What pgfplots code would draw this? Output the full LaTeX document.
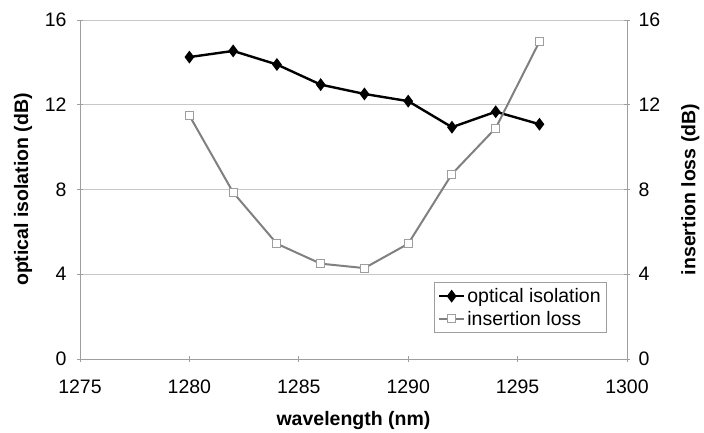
\documentclass[border=0pt]{standalone}
\usepackage{pgfplots}
\pgfplotsset{compat=1.18}
\usepackage{fontspec}
\setmainfont{Liberation Sans}
\definecolor{gridc}{gray}{0.78}
\definecolor{axc}{gray}{0.62}
\definecolor{ilc}{gray}{0.5}
\definecolor{ilm}{gray}{0.62}
\newcommand{\lblfont}{\bfseries\fontsize{19.5}{22}\selectfont}
\begin{document}
\begin{tikzpicture}
\pgfplotsset{every axis/.append style={
  width=547pt,height=339pt,scale only axis,
  xmin=1275,xmax=1300,ymin=0,ymax=16,
  xtick={1275,1280,...,1300}, ytick={0,4,...,16},
  tick label style={font=\fontsize{19.5}{22}\selectfont},
  /pgf/number format/assume math mode=true,
  /pgf/number format/1000 sep={},
  tick align=outside, major tick length=6pt,
  every tick/.style={axc, line width=0.8pt},
}}
\begin{axis}[name=main,
  axis x line=bottom, axis y line=left,
  axis line style={-, axc, line width=0.8pt},
  ymajorgrids, grid style={gridc, line width=0.8pt},
  xlabel={wavelength (nm)}, ylabel={optical isolation (dB)},
  xlabel style={at={(axis description cs:0.5,-0.18)},anchor=center,font=\lblfont},
  ylabel style={at={(axis description cs:-0.104,0.5)},anchor=center,font=\lblfont},
  xticklabel style={yshift=-14pt},
  yticklabel style={xshift=-7pt},
]
\addplot[black, line width=2.4pt, mark=diamond*, mark size=4.5pt, mark options={solid}] coordinates {
(1280,14.25) (1282,14.54) (1284,13.90) (1286,12.95) (1288,12.51) (1290,12.17) (1292,10.94) (1294,11.67) (1296,11.08)
};
\end{axis}
\begin{axis}[
  axis x line=none, axis y line=right,
  axis line style={-, axc, line width=0.8pt},
  ylabel={insertion loss (dB)},
  ylabel style={at={(axis description cs:1.116,0.5)},anchor=center,font=\lblfont},
  yticklabel style={xshift=5pt},
  legend style={at={(0.9636,0.0767)}, anchor=south east, draw=axc, line width=0.8pt,
    font=\fontsize{19.5}{22}\selectfont, legend cell align=left, inner xsep=4pt, inner ysep=4pt,
    row sep=3pt},
  legend image code/.code={\draw[mark repeat=2,mark phase=2] plot coordinates {(0pt,0pt)(12.5pt,0pt)(25pt,0pt)};},
]
\addlegendimage{black, line width=2.4pt, mark=diamond*, mark size=4.5pt}
\addlegendentry{optical isolation}
\addplot[ilc, line width=2pt, mark=square*, mark size=4pt, mark options={fill=white, draw=ilm, line width=1pt}] coordinates {
(1280,11.49) (1282,7.86) (1284,5.44) (1286,4.50) (1288,4.29) (1290,5.44) (1292,8.73) (1294,10.90) (1296,14.98)
};
\addlegendentry{insertion loss}
\end{axis}
\pgfresetboundingbox
\path ([shift={(-80pt,-74pt)}]main.south west) rectangle ([shift={(77pt,20pt)}]main.north east);
\end{tikzpicture}
\end{document}
